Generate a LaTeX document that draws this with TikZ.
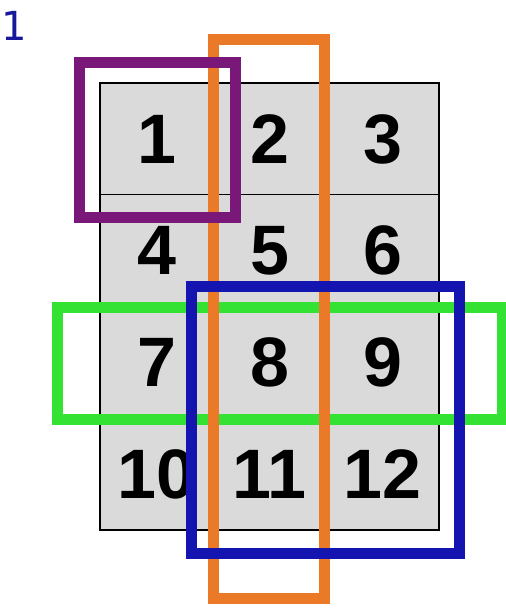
\documentclass[tikz,border=0pt]{standalone}
\usepackage{fontspec}
\newfontfamily\digitfont{Liberation Sans}
\newfontfamily\slidefont{DejaVu Sans}
\usepackage{xcolor}
\usetikzlibrary{positioning}
\definecolor{cellgray}{RGB}{218,218,218}
\definecolor{framepurple}{RGB}{122,24,122}
\definecolor{frameorange}{RGB}{234,122,40}
\definecolor{framegreen}{RGB}{52,226,52}
\definecolor{frameblue}{RGB}{20,20,176}
\definecolor{slideblue}{RGB}{24,24,156}
\tikzset{
  cellnum/.style={font=\digitfont\bfseries\fontsize{70}{70}\selectfont, inner sep=0pt},
  frame/.style={line width=11pt, line join=miter}
}

\begin{document}
\begin{tikzpicture}[x=1pt, y=-1pt]
  \useasboundingbox (0,0) rectangle (506,608);
  % 3x4 table of cells, about 113 x 112 each
  \fill[cellgray] (100,83) rectangle (439,530);
  \foreach \r in {1,2,3} {
    \draw[black, line width=1.2pt] (100,{83+111.75*\r}) -- (439,{83+111.75*\r});
  }
  \foreach \c in {1,2} {
    \draw[black, line width=1.2pt] ({100+113*\c},83) -- ({100+113*\c},530);
  }
  \draw[black, line width=1.5pt] (100,83) rectangle (439,530);
  % Numbers, row by row
  \foreach \n in {1,...,12} {
    \pgfmathtruncatemacro\row{int((\n-1)/3)}
    \pgfmathtruncatemacro\col{mod(\n-1,3)}
    \node[cellnum] (c\n) at ({156.5+113*\col},{139+111.75*\row}) {\n};
  }
  % Frames: row 3, column 2, cell 1, lower right block
  \draw[frame, framegreen] (57,307) rectangle (502,419);
  \draw[frame, frameorange] (213,39) rectangle (324,598);
  \draw[frame, framepurple] (79,62) rectangle (235,217);
  \draw[frame, frameblue] (191,286) rectangle (459,553);
  % slide number
  \node[font=\slidefont\fontsize{40}{40}\selectfont, text=slideblue,
        anchor=base west, inner sep=0pt] (slide) at (1,40) {1};
\end{tikzpicture}
\end{document}
